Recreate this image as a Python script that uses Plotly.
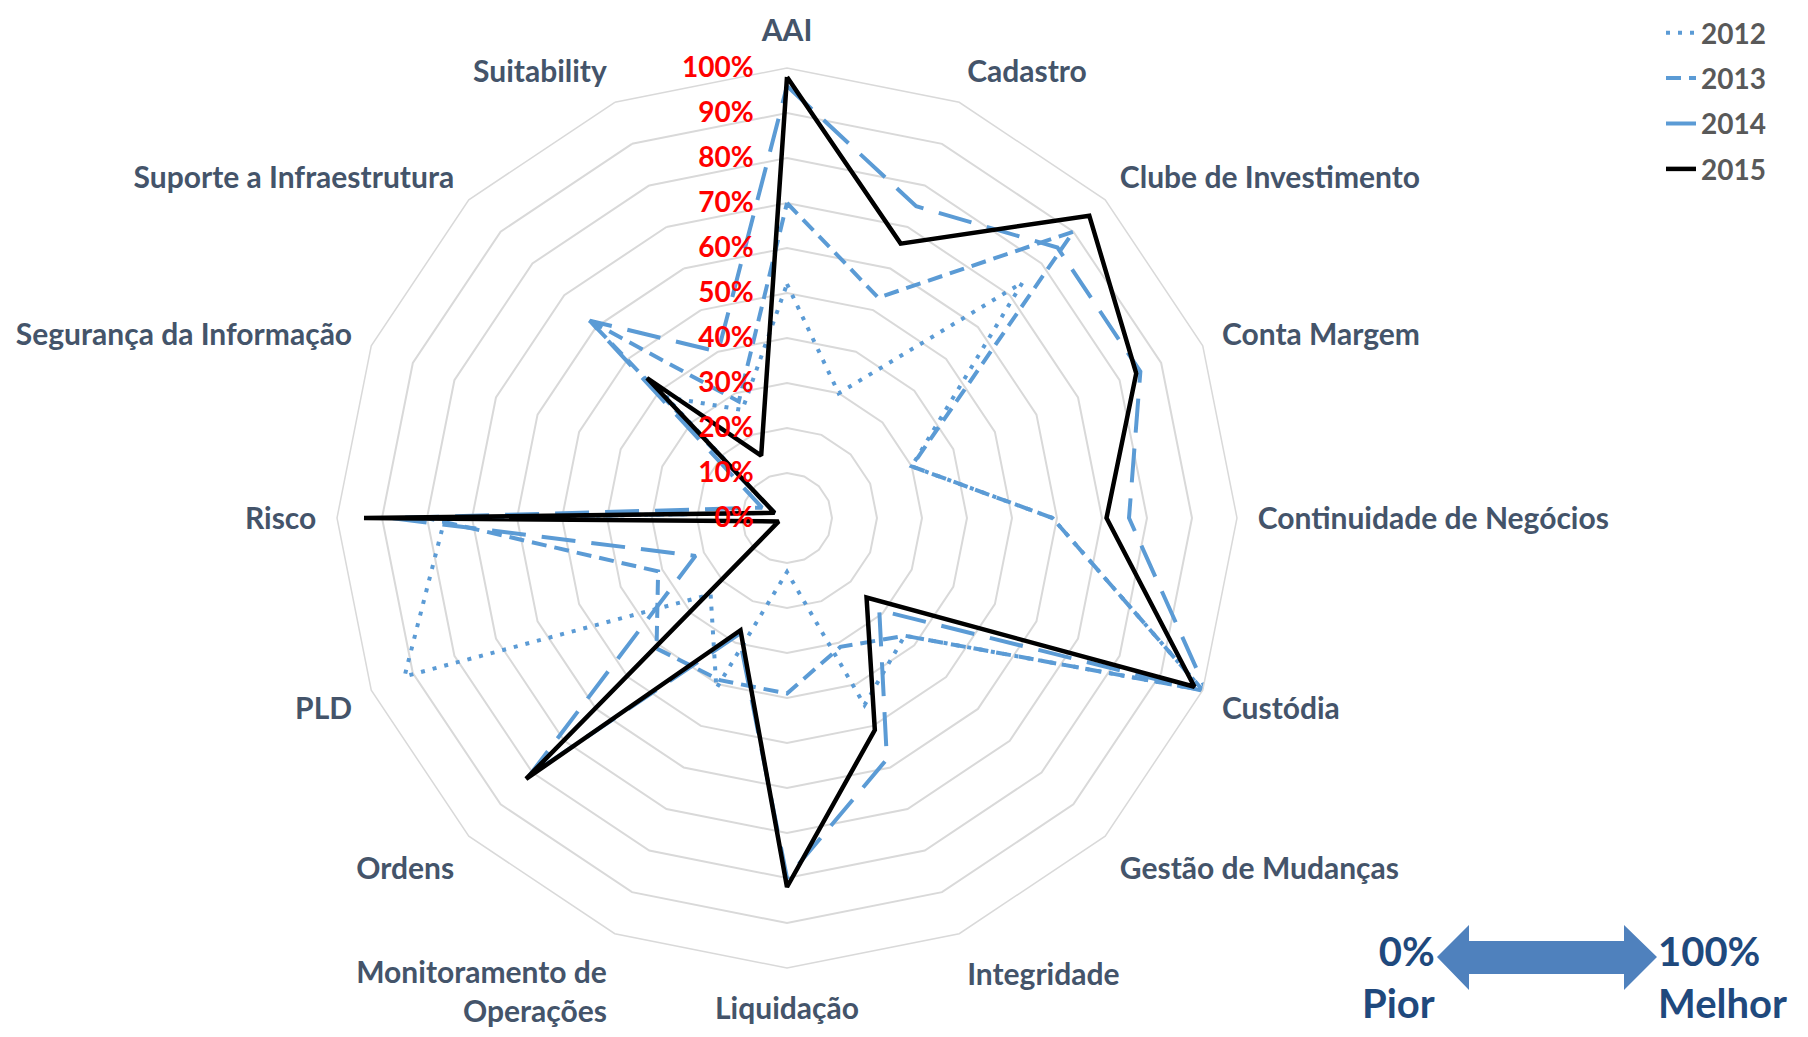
import plotly.graph_objects as go

# page is 1808x1037, the html body keeps an 8px margin
OFF = 8
W, H = 1808 - 2 * OFF, 1037 - 2 * OFF

categories = ["AAI", "Cadastro", "Clube de Investimento", "Conta Margem",
              "Continuidade de Negócios", "Custódia", "Gestão de Mudanças",
              "Integridade", "Liquidação", "Monitoramento de<br>Operações",
              "Ordens", "PLD", "Risco", "Segurança da Informação",
              "Suporte a Infraestrutura", "Suitability"]

v2012 = [0.52, 0.30, 0.74, 0.30, 0.59, 1.00, 0.37, 0.45, 0.12, 0.41, 0.24, 0.92, 0.76, 0.03, 0.38, 0.26]
v2013 = [0.70, 0.53, 0.90, 0.30, 0.59, 1.00, 0.37, 0.31, 0.39, 0.39, 0.41, 0.31, 0.80, 0.03, 0.62, 0.28]
v2014 = [0.96, 0.75, 0.85, 0.85, 0.76, 1.01, 0.29, 0.58, 0.80, 0.28, 0.81, 0.22, 0.88, 0.06, 0.62, 0.40]
v2015 = [0.98, 0.66, 0.95, 0.84, 0.71, 0.98, 0.25, 0.51, 0.82, 0.27, 0.82, 0.02, 0.94, 0.03, 0.44, 0.15]

series = [
    ("2012", v2012, "#5B9BD5", "4px,8px", 4),
    ("2013", v2013, "#5B9BD5", "15px,8px", 4),
    ("2014", v2014, "#5B9BD5", "34px,16px", 4),
    ("2015", v2015, "black", "solid", 4.5),
]


def px(x, y):
    # page pixel position -> paper coordinates
    return (x - OFF) / W, 1 - (y - OFF) / H


fig = go.Figure()
for name, vals, color, dash, width in series:
    fig.add_trace(go.Scatterpolar(
        r=vals + vals[:1], theta=categories + categories[:1],
        mode="lines", name=name, legendgroup=name,
        line=dict(color=color, dash=dash, width=width),
    ))

# polar area: centre (787, 518), radius 450 px on the page
cx, cy, rad = 787, 518, 450
x0, y0 = px(cx - rad, cy + rad)
x1, y1 = px(cx + rad, cy - rad)
lx, _ = px(1661, 0)

fig.update_layout(
    width=W, height=H,
    margin=dict(l=0, r=0, t=0, b=0, autoexpand=False),
    paper_bgcolor="white",
    polar=dict(
        domain=dict(x=[x0, x1], y=[y0, y1]),
        bgcolor="white",
        gridshape="linear",
        angularaxis=dict(
            rotation=90, direction="clockwise",
            showgrid=False, ticks="outside", ticklen=14, tickcolor="rgba(0,0,0,0)",
            linecolor="#D9D9D9", linewidth=1.5,
            tickfont=dict(family="Lato", size=30, color="#44546A", weight="bold"),
        ),
        radialaxis=dict(
            range=[0, 1], dtick=0.1, tickformat=".0%",
            angle=90, side="counterclockwise", tickangle=90,
            showline=False, gridcolor="#D9D9D9", gridwidth=1.5,
            ticks="outside", ticklen=23, tickcolor="rgba(0,0,0,0)",
            tickfont=dict(family="Lato", size=28, color="red", weight="bold"),
        ),
    ),
    legend=dict(
        x=lx, y=1.0, xanchor="left", yanchor="top",
        tracegroupgap=6,
        font=dict(family="Lato", size=28, color="#595959", weight="bold"),
        bgcolor="rgba(0,0,0,0)",
    ),
)

# double arrow Pior <-> Melhor
ay0 = 957
pts = [(1437, ay0), (1469, ay0 - 32), (1469, ay0 - 16), (1624, ay0 - 16), (1624, ay0 - 32),
       (1657, ay0), (1624, ay0 + 33), (1624, ay0 + 17), (1469, ay0 + 17), (1469, ay0 + 33)]
path = "M " + " L ".join("%.5f,%.5f" % px(x, y) for x, y in pts) + " Z"
fig.add_shape(type="path", path=path, xref="paper", yref="paper",
              fillcolor="#4F81BD", line=dict(width=0))

for text, x, anchor in [("0%<br>Pior", 1437, "right"), ("100%<br>Melhor", 1656, "left")]:
    ax, _ = px(x, 0)
    fig.add_annotation(text=text, x=ax, y=0, xref="paper", yref="paper",
                       showarrow=False, xanchor=anchor, yanchor="bottom", align=anchor,
                       font=dict(family="Lato", size=40, color="#1F497D", weight="bold"))

fig.write_html("out.html")
